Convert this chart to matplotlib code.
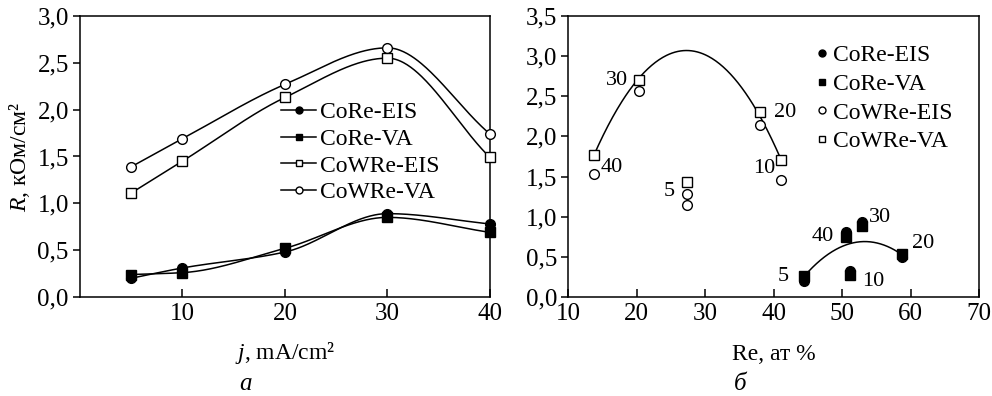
import numpy as np
import matplotlib
matplotlib.use("Agg")
import matplotlib.pyplot as plt
from matplotlib.ticker import FuncFormatter
from matplotlib.lines import Line2D

plt.rcParams['font.family'] = ['Liberation Serif', 'DejaVu Serif']
plt.rcParams['mathtext.fontset'] = 'custom'
plt.rcParams['mathtext.rm'] = 'Liberation Serif'
plt.rcParams['mathtext.it'] = 'Liberation Serif:italic'
plt.rcParams['font.size'] = 17

# ---------------- data: panel a ----------------
j_vals = [5, 10, 20, 30, 40]
core_eis_a = [0.20, 0.31, 0.48, 0.89, 0.78]
core_va_a = [0.24, 0.26, 0.52, 0.85, 0.69]
cowre_eis_a = [1.11, 1.45, 2.13, 2.55, 1.49]
cowre_va_a = [1.39, 1.69, 2.27, 2.66, 1.74]

# ---------------- data: panel б ----------------
j_labels = ['5', '10', '20', '30', '40']
core_re = [44.4, 51.1, 58.8, 52.9, 50.6]
core_eis_b = [0.20, 0.32, 0.50, 0.94, 0.81]
core_va_b = [0.26, 0.28, 0.53, 0.89, 0.75]
cowre_re = [27.4, 41.1, 38.0, 20.4, 13.8]
cowre_eis_b = [1.28, 1.46, 2.14, 2.57, 1.53]
cowre_va_b = [1.43, 1.71, 2.31, 2.70, 1.77]
extra_re = [27.4]
extra_eis_b = [1.15]
fit_hi_x = [13.8, 27.4, 40.8]
fit_hi_y = [1.77, 3.07, 1.77]
fit_lo_x = [44.5, 53.6, 58.7]
fit_lo_y = [0.26, 0.69, 0.53]

comma = FuncFormatter(lambda v, p: f"{v:.1f}".replace('.', ','))


def smooth_curve(x, y, n=300):
    """Shape-preserving (PCHIP) cubic through the given points."""
    x = np.asarray(x, float); y = np.asarray(y, float)
    h = np.diff(x); d = np.diff(y) / h
    m = np.zeros_like(y)
    for i in range(1, len(x) - 1):
        if d[i - 1] * d[i] > 0:
            w1 = 2 * h[i] + h[i - 1]; w2 = h[i] + 2 * h[i - 1]
            m[i] = (w1 + w2) / (w1 / d[i - 1] + w2 / d[i])
    m[0] = d[0]; m[-1] = d[-1]
    xs = np.linspace(x[0], x[-1], n); ys = np.empty_like(xs)
    for k, xv in enumerate(xs):
        i = min(np.searchsorted(x, xv, side='right') - 1, len(x) - 2)
        t = (xv - x[i]) / h[i]
        h00 = 2 * t**3 - 3 * t**2 + 1; h10 = t**3 - 2 * t**2 + t
        h01 = -2 * t**3 + 3 * t**2; h11 = t**3 - t**2
        ys[k] = h00 * y[i] + h10 * h[i] * m[i] + h01 * y[i + 1] + h11 * h[i] * m[i + 1]
    return xs, ys


fig = plt.figure(figsize=(9.92, 3.96), dpi=100)
axA = fig.add_axes([0.0806, 0.25, 0.4133, 0.7096])
axB = fig.add_axes([0.5726, 0.25, 0.4143, 0.7096])

ms = 7
lw = 1.1
series_a = [
    (core_eis_a, 'o', 'black', 'CoRe-EIS'),
    (core_va_a, 's', 'black', 'CoRe-VA'),
    (cowre_eis_a, 's', 'white', 'CoWRe-EIS'),
    (cowre_va_a, 'o', 'white', 'CoWRe-VA'),
]
handles = []
for vals, mk, fc, lab in series_a:
    xs, ys = smooth_curve(j_vals, vals)
    axA.plot(xs, ys, color='black', lw=lw, zorder=2)
    axA.plot(j_vals, vals, ls='none', marker=mk, ms=ms, mfc=fc, mec='black', mew=1.0, zorder=3, clip_on=False)
    handles.append(Line2D([], [], color='black', lw=lw, marker=mk, ms=5, mfc=fc, mec='black', mew=1.0))

axA.set_xlim(0, 40)
axA.set_ylim(0, 3.0)
axA.set_xticks([10, 20, 30, 40])
axA.set_yticks(np.arange(0, 3.01, 0.5))
axA.yaxis.set_major_formatter(comma)
axA.set_xlabel('$j$, mA/cm²', fontsize=17, labelpad=11)
axA.set_ylabel('$R$, кОм/см²', fontsize=17, labelpad=4)
axA.legend(handles, [s[3] for s in series_a], loc='upper left', bbox_to_anchor=(0.49, 0.695),
           frameon=False, fontsize=17, handlelength=1.5, handletextpad=0.15, labelspacing=0.22,
           borderpad=0, borderaxespad=0)

# panel б
axB.plot(core_re, core_eis_b, ls='none', marker='o', ms=ms, mfc='black', mec='black', zorder=3)
axB.plot(core_re, core_va_b, ls='none', marker='s', ms=ms, mfc='black', mec='black', zorder=3)
axB.plot(cowre_re, cowre_eis_b, ls='none', marker='o', ms=ms, mfc='white', mec='black', mew=1.0, zorder=3)
axB.plot(extra_re, extra_eis_b, ls='none', marker='o', ms=ms, mfc='white', mec='black', mew=1.0, zorder=3)
axB.plot(cowre_re, cowre_va_b, ls='none', marker='s', ms=ms, mfc='white', mec='black', mew=1.0, zorder=3)

for fx, fy in [(fit_hi_x, fit_hi_y), (fit_lo_x, fit_lo_y)]:
    p = np.polyfit(fx, fy, 2)
    xx = np.linspace(fx[0], fx[-1], 200)
    axB.plot(xx, np.polyval(p, xx), color='black', lw=lw, zorder=2)

hi_offsets = [(-9, -7, 'right'), (-4, -6, 'right'), (10, -1, 'left'), (-8, 0, 'right'), (5, 5, 'left')]
hi_y = [cowre_va_b[0], cowre_va_b[1], cowre_va_b[2], cowre_va_b[3], cowre_eis_b[4]]
for lab, x, y, (dx, dy, ha) in zip(j_labels, cowre_re, hi_y, hi_offsets):
    axB.annotate(lab, (x, y), xytext=(dx, dy), textcoords='offset points', ha=ha, va='center', fontsize=16)
lo_offsets = [(-11, 0, 'right'), (9, -5, 'left'), (7, 8, 'left'), (5, 6, 'left'), (-9, 0, 'right')]
for lab, x, y, (dx, dy, ha) in zip(j_labels, core_re, core_va_b, lo_offsets):
    axB.annotate(lab, (x, y), xytext=(dx, dy), textcoords='offset points', ha=ha, va='center', fontsize=16)

axB.set_xlim(10, 70)
axB.set_ylim(0, 3.5)
axB.set_xticks([10, 20, 30, 40, 50, 60, 70])
axB.set_yticks(np.arange(0, 3.51, 0.5))
axB.yaxis.set_major_formatter(comma)
axB.set_xlabel('Re, ат %', fontsize=17, labelpad=14)

hb = [Line2D([], [], ls='none', marker='o', ms=5, mfc='black', mec='black'),
      Line2D([], [], ls='none', marker='s', ms=5, mfc='black', mec='black'),
      Line2D([], [], ls='none', marker='o', ms=5, mfc='white', mec='black', mew=1.0),
      Line2D([], [], ls='none', marker='s', ms=5, mfc='white', mec='black', mew=1.0)]
axB.legend(hb, ['CoRe-EIS', 'CoRe-VA', 'CoWRe-EIS', 'CoWRe-VA'], loc='upper left',
           bbox_to_anchor=(0.6, 0.897), frameon=False, fontsize=17, handlelength=0.6,
           handletextpad=0.2, labelspacing=0.3, borderpad=0, borderaxespad=0)

for ax in (axA, axB):
    for s in ax.spines.values():
        s.set_linewidth(1.1)
    ax.tick_params(axis='x', direction='in', length=6, width=1.1, labelsize=18, pad=4)
    ax.tick_params(axis='y', direction='out', length=5, width=1.1, labelsize=18, pad=3)

fig.text(0.247, 0.03, 'а', fontsize=18, style='italic', ha='center', va='center')
fig.text(0.746, 0.03, 'б', fontsize=18, style='italic', ha='center', va='center')

fig.savefig('out.png', dpi=100)
